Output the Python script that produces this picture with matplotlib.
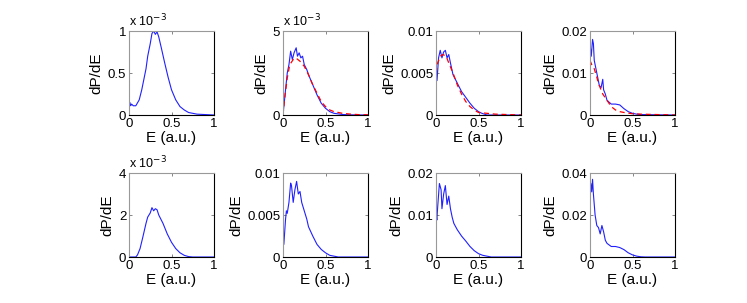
import matplotlib
matplotlib.use("Agg")
import matplotlib.pyplot as plt
from matplotlib.ticker import FuncFormatter

plt.rcParams['font.family'] = ['Liberation Sans', 'DejaVu Sans']

# ── Data ──────────────────────────────────────────────
# panel 1 (row 1)
e1 = [0, 0.01, 0.02, 0.03, 0.05, 0.08, 0.12, 0.15, 0.18, 0.2, 0.22, 0.25, 0.27, 0.29,
      0.31, 0.33, 0.35, 0.38, 0.42, 0.46, 0.5, 0.55, 0.6, 0.65, 0.7, 0.8, 0.9, 1.0]
p1 = [0.13e-3, 0.15e-3, 0.11e-3, 0.13e-3, 0.11e-3, 0.11e-3, 0.18e-3, 0.30e-3, 0.45e-3,
      0.55e-3, 0.70e-3, 0.85e-3, 0.97e-3, 1.0e-3, 0.96e-3, 0.99e-3, 0.93e-3, 0.80e-3,
      0.62e-3, 0.45e-3, 0.30e-3, 0.18e-3, 0.10e-3, 0.06e-3, 0.03e-3, 0.01e-3, 0.005e-3, 0.0]

# panel 2
e2 = [0, 0.01, 0.03, 0.05, 0.07, 0.09, 0.11, 0.13, 0.155, 0.17, 0.19, 0.21, 0.23, 0.25,
      0.28, 0.3, 0.35, 0.4, 0.45, 0.5, 0.55, 0.6, 0.7, 0.8, 1.0]
p2 = [0, 0.5e-3, 1.5e-3, 2.5e-3, 3.0e-3, 3.8e-3, 3.3e-3, 3.7e-3, 4.0e-3, 3.5e-3, 3.7e-3,
      3.4e-3, 3.5e-3, 3.0e-3, 2.7e-3, 2.4e-3, 1.8e-3, 1.2e-3, 0.7e-3, 0.4e-3, 0.2e-3,
      0.1e-3, 0.03e-3, 0.01e-3, 0]
e2f = [0, 0.02, 0.05, 0.08, 0.12, 0.15, 0.2, 0.25, 0.3, 0.35, 0.4, 0.45, 0.5, 0.55, 0.6,
       0.7, 0.8, 0.9, 1.0]
f2 = [0, 1.0e-3, 2.2e-3, 3.0e-3, 3.3e-3, 3.4e-3, 3.2e-3, 2.9e-3, 2.4e-3, 1.8e-3, 1.3e-3,
      0.8e-3, 0.5e-3, 0.3e-3, 0.2e-3, 0.1e-3, 0.05e-3, 0.02e-3, 0.01e-3]

# panel 3
e3 = [0, 0.005, 0.012, 0.03, 0.05, 0.07, 0.09, 0.11, 0.13, 0.15, 0.17, 0.2, 0.25, 0.3,
      0.35, 0.4, 0.45, 0.5, 0.54, 0.6, 1.0]
p3 = [0.001, 0.0055, 0.0041, 0.0068, 0.0077, 0.0068, 0.0075, 0.0077, 0.0068, 0.0072,
      0.0062, 0.0048, 0.0038, 0.0028, 0.0021, 0.0014, 0.0008, 0.0004, 0.0002, 0.0, 0.0]
e3f = [0, 0.02, 0.05, 0.08, 0.12, 0.15, 0.2, 0.25, 0.3, 0.35, 0.4, 0.45, 0.5, 0.6, 0.7, 1.0]
f3 = [0.005, 0.0062, 0.007, 0.0072, 0.007, 0.0062, 0.005, 0.0036, 0.0025, 0.0016, 0.001,
      0.0006, 0.0003, 0.0002, 0.0001, 0.0]

# panel 4
e4 = [0, 0.005, 0.015, 0.03, 0.04, 0.05, 0.07, 0.09, 0.11, 0.13, 0.15, 0.16, 0.18, 0.2,
      0.25, 0.3, 0.35, 0.4, 0.45, 0.5, 0.55, 0.6, 1.0]
p4 = [0.004, 0.016, 0.014, 0.018, 0.017, 0.013, 0.011, 0.009, 0.007, 0.0065, 0.0085,
      0.006, 0.005, 0.0035, 0.0026, 0.0026, 0.0024, 0.0015, 0.0008, 0.0004, 0.0002,
      0.0001, 0.0]
e4f = [0, 0.02, 0.05, 0.08, 0.1, 0.15, 0.2, 0.25, 0.3, 0.35, 0.4, 0.5, 0.6, 0.8, 1.0]
f4 = [0.013, 0.012, 0.011, 0.009, 0.0075, 0.005, 0.0035, 0.002, 0.0012, 0.0008, 0.0006,
      0.0003, 0.0002, 0.0001, 0.0]

# panel 5 (row 2)
e5 = [0, 0.08, 0.1, 0.13, 0.16, 0.2, 0.22, 0.25, 0.27, 0.29, 0.31, 0.33, 0.35, 0.4,
      0.45, 0.5, 0.55, 0.6, 0.65, 0.7, 0.75, 1.0]
p5 = [0, 0, 0.1e-3, 0.4e-3, 0.9e-3, 1.6e-3, 1.9e-3, 2.1e-3, 2.35e-3, 2.2e-3, 2.3e-3,
      2.25e-3, 2.0e-3, 1.6e-3, 1.1e-3, 0.7e-3, 0.4e-3, 0.2e-3, 0.08e-3, 0.02e-3, 0, 0]

# panel 6
e6 = [0, 0.01, 0.02, 0.03, 0.04, 0.05, 0.07, 0.09, 0.1, 0.12, 0.14, 0.16, 0.18, 0.2,
      0.22, 0.25, 0.28, 0.3, 0.35, 0.4, 0.45, 0.5, 0.55, 0.6, 0.65, 1.0]
p6 = [0.0015, 0.0015, 0.003, 0.0045, 0.0055, 0.0052, 0.0065, 0.0088, 0.0085, 0.0065,
      0.008, 0.009, 0.0075, 0.0078, 0.0065, 0.0055, 0.0045, 0.0036, 0.0025, 0.0015,
      0.0009, 0.0005, 0.0002, 0.0001, 0.0, 0.0]

# panel 7
e7 = [0, 0.003, 0.01, 0.02, 0.04, 0.06, 0.07, 0.09, 0.11, 0.13, 0.15, 0.17, 0.19, 0.21,
      0.25, 0.3, 0.35, 0.4, 0.45, 0.5, 0.55, 0.6, 0.65, 1.0]
p7 = [0.002, 0.01, 0.0088, 0.012, 0.0175, 0.016, 0.0115, 0.015, 0.017, 0.0125, 0.0145,
      0.0115, 0.0095, 0.008, 0.0065, 0.005, 0.0038, 0.0025, 0.0015, 0.0008, 0.0004,
      0.0002, 0.0, 0.0]

# panel 8
e8 = [0, 0.01, 0.02, 0.03, 0.04, 0.05, 0.06, 0.08, 0.1, 0.12, 0.14, 0.16, 0.18, 0.2,
      0.25, 0.3, 0.35, 0.4, 0.45, 0.5, 0.55, 0.6, 0.65, 1.0]
p8 = [0.03, 0.035, 0.031, 0.037, 0.03, 0.025, 0.02, 0.015, 0.014, 0.011, 0.015, 0.012,
      0.008, 0.0065, 0.005, 0.005, 0.0045, 0.0035, 0.002, 0.001, 0.0004, 0.0001, 0.0, 0.0]

ymax   = [1e-3, 5e-3, 0.01, 0.02, 4e-3, 0.01, 0.02, 0.04]
yticks = [[0, 0.5e-3, 1e-3], [0, 5e-3], [0, 0.005, 0.01], [0, 0.01, 0.02],
          [0, 2e-3, 4e-3], [0, 0.005, 0.01], [0, 0.01, 0.02], [0, 0.02, 0.04]]
scaled = [True, True, False, False, True, False, False, False]

blue_lines = [(e1, p1), (e2, p2), (e3, p3), (e4, p4), (e5, p5), (e6, p6), (e7, p7), (e8, p8)]
red_lines  = {1: (e2f, f2), 2: (e3f, f3), 3: (e4f, f4)}

# ── Figure ────────────────────────────────────────────
fig = plt.figure(figsize=(7.47, 3.03), dpi=100)
W, H = 747, 303
lefts   = [129, 283, 436, 590]
tops    = [31, 173]
aw, ah  = 85, 84

def fmt_plain(v, pos):
    if v == 0:
        return "0"
    return ("%g" % v)

def fmt_milli(v, pos):
    return ("%g" % round(v * 1e3, 6))

for i in range(8):
    r, c = divmod(i, 4)
    ax = fig.add_axes([lefts[c] / W, 1 - (tops[r] + ah) / H, aw / W, ah / H])
    x, y = blue_lines[i]
    ax.plot(x, y, color="#2020ff", linewidth=0.8)
    if i in red_lines:
        xr, yr = red_lines[i]
        ax.plot(xr, yr, color="red", linestyle="--", linewidth=0.9, dashes=(4, 3))
    ax.set_xlim(0, 1)
    ax.set_ylim(0, ymax[i])
    ax.set_xticks([0, 0.5, 1])
    ax.set_yticks(yticks[i])
    ax.xaxis.set_major_formatter(FuncFormatter(fmt_plain))
    ax.yaxis.set_major_formatter(FuncFormatter(fmt_milli if scaled[i] else fmt_plain))
    ax.tick_params(direction="in", length=2.5, width=0.5, top=True, right=True,
                   labelsize=9.5, pad=2, colors="#555555", labelcolor="black")
    for side in ["top", "left"]:
        ax.spines[side].set_color("#999999")
    for side in ["right", "bottom"]:
        ax.spines[side].set_color("black")
    for s in ax.spines.values():
        s.set_linewidth(0.8)
    ax.set_xlabel("E (a.u.)", fontsize=11, labelpad=1)
    ax.set_ylabel("dP/dE", fontsize=11, labelpad=3)
    if scaled[i]:
        ax.text(0.0, 1.02, r"x 10$^{-3}$", transform=ax.transAxes, fontsize=9,
                ha="left", va="bottom")

plt.savefig("out.png", dpi=100)
